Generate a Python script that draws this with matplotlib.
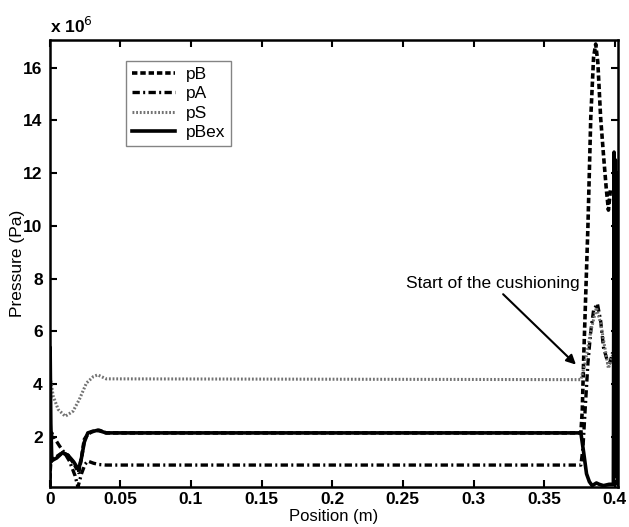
import matplotlib.pyplot as plt

plt.rcParams['font.family'] = ['Liberation Sans', 'DejaVu Sans']

# pressures in units of 1e6 Pa, positions in m
x_pB = [0, 0.0005, 0.002, 0.005, 0.009, 0.013, 0.017, 0.0205, 0.0225, 0.0245, 0.027,
        0.03, 0.035, 0.04, 0.376, 0.377, 0.378, 0.3795, 0.381, 0.383, 0.385, 0.3865,
        0.388, 0.39, 0.392, 0.394, 0.3955, 0.397]
pB = [0.1, 1.0, 1.15, 1.25, 1.4, 1.3, 1.0, 0.65, 1.2, 1.9, 2.1,
      2.2, 2.25, 2.15, 2.15, 3.0, 5.0, 7.5, 10.0, 14.1, 16.4, 16.9,
      16.2, 14.1, 12.7, 11.4, 10.6, 11.4]

x_pA = [0, 0.0015, 0.004, 0.007, 0.011, 0.014, 0.018, 0.02, 0.0225, 0.025, 0.027,
        0.031, 0.035, 0.04, 0.376, 0.3775, 0.379, 0.381, 0.383, 0.385, 0.3877,
        0.39, 0.392, 0.3957, 0.397, 0.3985]
pA = [0.1, 2.15, 1.9, 1.65, 1.35, 1.08, 0.52, 0.1, 0.6, 0.96, 1.08,
      1.0, 0.95, 0.93, 0.93, 1.6, 3.0, 4.8, 6.0, 6.8, 7.05,
      6.4, 5.4, 4.7, 4.9, 5.2]

x_pS = [0, 0.0025, 0.006, 0.011, 0.0165, 0.021, 0.026, 0.031, 0.034, 0.04,
        0.376, 0.379, 0.383, 0.387, 0.39, 0.3955, 0.3985]
pS = [4.4, 3.54, 3.04, 2.78, 2.97, 3.42, 4.04, 4.29, 4.35, 4.2,
      4.17, 4.8, 6.0, 6.9, 6.3, 4.6, 5.1]

x_pBex = [0, 0.0003, 0.0008, 0.0015, 0.005, 0.009, 0.013, 0.017, 0.0205, 0.0225,
          0.0245, 0.027, 0.03, 0.034, 0.04, 0.376, 0.378, 0.38, 0.382, 0.384,
          0.387, 0.389, 0.392, 0.396, 0.399, 0.3995, 0.4, 0.4005, 0.401, 0.4015,
          0.402, 0.4025]
pBex = [0.1, 5.4, 2.5, 1.1, 1.2, 1.4, 1.3, 1.05, 0.75, 1.2,
        1.8, 2.15, 2.2, 2.25, 2.15, 2.15, 1.4, 0.6, 0.3, 0.15,
        0.25, 0.2, 0.15, 0.2, 0.2, 12.8, 1.0, 12.5, 0.5, 12.0,
        0.2, 11.0]

fig = plt.figure(figsize=(6.29, 5.27), dpi=100)
ax = fig.add_axes([0.079, 0.075, 0.904, 0.849])

ax.plot(x_pB, pB, color='black', lw=2.6, ls=(0, (1.5, 0.8)), label='pB')
ax.plot(x_pA, pA, color='black', lw=2.4, ls=(0, (2.2, 1.0, 0.6, 1.0)), label='pA')
ax.plot(x_pS, pS, color='0.45', lw=2.2, ls=(0, (0.6, 0.6)), label='pS')
ax.plot(x_pBex, pBex, color='black', lw=2.6, label='pBex')

ax.set_xlim(0, 0.4025)
ax.set_ylim(0.08, 17.05)
ax.set_xticks([0, 0.05, 0.1, 0.15, 0.2, 0.25, 0.3, 0.35, 0.4])
ax.set_xticklabels(['0', '0.05', '0.1', '0.15', '0.2', '0.25', '0.3', '0.35', '0.4'])
ax.set_yticks([2, 4, 6, 8, 10, 12, 14, 16])
ax.tick_params(direction='in', top=True, right=True, length=5, width=1.5,
               labelsize=12.5)
ax.tick_params(axis='x', pad=3)
ax.tick_params(axis='y', pad=5)
for lab in ax.get_xticklabels() + ax.get_yticklabels():
    lab.set_fontweight('bold')
for sp in ax.spines.values():
    sp.set_linewidth(1.8)

ax.set_xlabel('Position (m)', fontsize=12)
ax.xaxis.set_label_coords(0.5, -0.048)
ax.set_ylabel('Pressure (Pa)', fontsize=12.5)
ax.yaxis.set_label_coords(-0.043, 0.5)
ax.text(0.0, 1.008, 'x 10$^6$', transform=ax.transAxes, fontsize=12.5,
        fontweight='bold', ha='left', va='bottom')

ax.annotate('Start of the cushioning', xy=(0.3725, 4.74), xytext=(0.252, 7.8),
            fontsize=12.5, va='center', ha='left',
            arrowprops=dict(arrowstyle='-|>', color='black', lw=1.5,
                            shrinkA=0, shrinkB=0, mutation_scale=14),
            )

leg = ax.legend(loc='upper left', bbox_to_anchor=(0.134, 0.954), fontsize=12.5,
                handlelength=2.5, frameon=True, fancybox=False, borderpad=0.35,
                labelspacing=0.25, handletextpad=0.6, borderaxespad=0)
leg.get_frame().set_edgecolor('0.4')
leg.get_frame().set_linewidth(1.0)

fig.savefig('out.png', dpi=100)
